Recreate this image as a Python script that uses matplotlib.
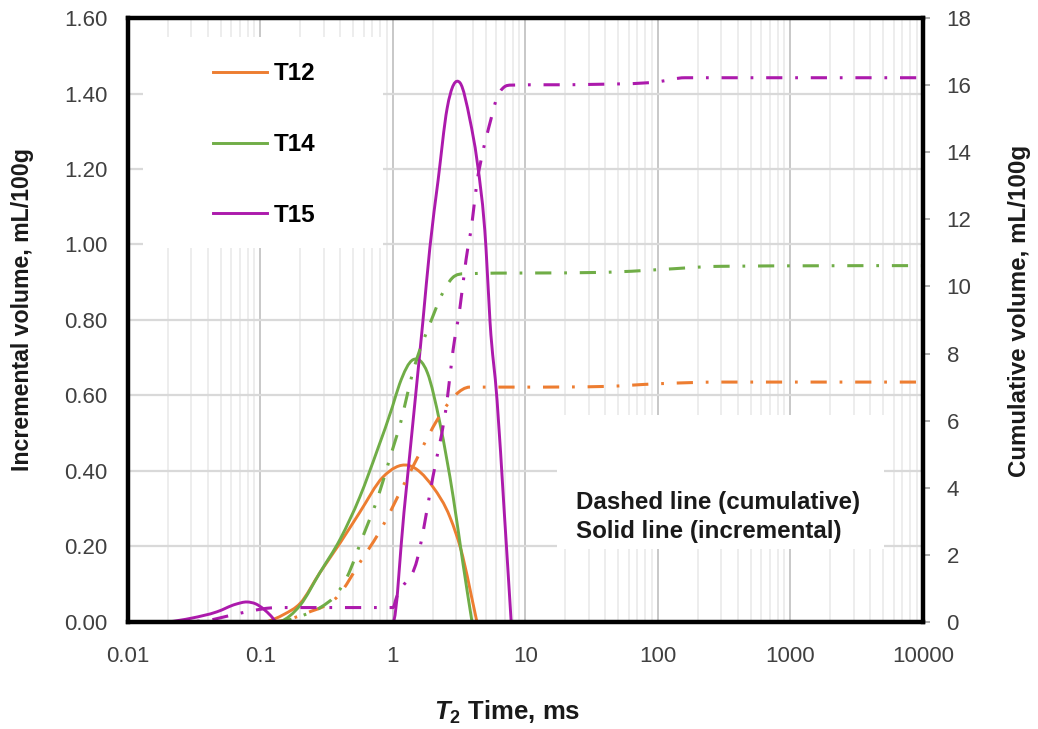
import numpy as np
import matplotlib
matplotlib.use("Agg")
import matplotlib.pyplot as plt
from matplotlib.patches import Rectangle, PathPatch
from matplotlib.path import Path
from matplotlib.lines import Line2D
from matplotlib.ticker import LogLocator, NullFormatter

plt.rcParams["font.family"] = ["Liberation Sans", "DejaVu Sans"]
plt.rcParams["mathtext.fontset"] = "custom"
plt.rcParams["mathtext.it"] = "Liberation Sans:bold:italic"
plt.rcParams["mathtext.rm"] = "Liberation Sans:bold"
plt.rcParams["mathtext.bf"] = "Liberation Sans:bold"

# ---- incremental T2 distributions (mL/100g) ----
t12_inc_t = [0.11, 0.15, 0.2, 0.28, 0.40, 0.56, 0.84, 1.30, 2.0, 2.69, 3.37, 3.9, 4.3]
t12_inc_v = [0.0, 0.02, 0.05, 0.13, 0.21, 0.29, 0.384, 0.415, 0.358, 0.278, 0.172, 0.07, 0.0]

t14_inc_t = [0.14, 0.2, 0.28, 0.40, 0.56, 0.77, 0.99, 1.12, 1.42, 1.82, 2.26, 2.85, 3.37, 3.95]
t14_inc_v = [0.0, 0.045, 0.13, 0.22, 0.33, 0.46, 0.57, 0.63, 0.695, 0.66, 0.527, 0.33, 0.156, 0.0]

t15_inc_t = [0.02, 0.03, 0.047, 0.065, 0.079, 0.092, 0.105, 0.12, 0.133, 0.5, 1.0, 1.21, 1.47, 1.68,
             1.90, 2.19, 2.56, 3.21, 3.81, 4.30, 5.03, 5.40, 6.10, 6.89, 7.8]
t15_inc_v = [0.0, 0.01, 0.027, 0.047, 0.053, 0.048, 0.035, 0.016, 0.0, 0.0, 0.0, 0.29, 0.588, 0.795,
             0.993, 1.17, 1.36, 1.428, 1.33, 1.224, 0.993, 0.795, 0.588, 0.30, 0.0]

# ---- cumulative volumes (mL/100g) ----
t12_cum_t = [0.11, 0.16, 0.224, 0.39, 0.56, 0.83, 1.12, 1.54, 2.0, 2.39, 2.95, 3.8, 10, 40, 100, 300, 10000]
t12_cum_v = [0.0, 0.07, 0.27, 0.8, 1.76, 2.83, 3.84, 4.92, 5.8, 6.3, 6.76, 7.0, 7.0, 7.02, 7.1, 7.15, 7.15]

t14_cum_t = [0.13, 0.17, 0.21, 0.28, 0.38, 0.45, 0.59, 0.77, 0.95, 1.17, 1.34, 1.5, 1.7, 1.95, 2.3, 2.8,
             3.5, 10, 40, 100, 300, 10000]
t14_cum_v = [0.0, 0.08, 0.2, 0.42, 0.86, 1.34, 2.53, 3.72, 4.9, 6.1, 7.1, 7.8, 8.4, 9.0, 9.7, 10.25,
             10.38, 10.4, 10.42, 10.5, 10.6, 10.62]

t15_cum_t = [0.02, 0.04, 0.06, 0.085, 0.12, 0.15, 1.0, 1.06, 1.52, 2.0, 2.56, 2.84, 3.21, 3.56, 3.95,
             4.30, 4.70, 5.5, 5.99, 6.89, 7.8, 30, 100, 160, 10000]
t15_cum_v = [0.0, 0.05, 0.2, 0.33, 0.42, 0.43, 0.43, 0.72, 1.85, 4.32, 6.6, 8.1, 9.4, 10.8, 11.9,
             13.1, 13.9, 15.0, 15.55, 15.94, 16.0, 16.02, 16.1, 16.22, 16.22]

labels = ["T12", "T14", "T15"]
colors = ["#ED7D31", "#70AD47", "#AC1AAC"]

x_ticks = [0.01, 0.1, 1, 10, 100, 1000, 10000]
x_tick_labels = ["0.01", "0.1", "1", "10", "100", "1000", "10000"]
left_ticks = [0.0, 0.2, 0.4, 0.6, 0.8, 1.0, 1.2, 1.4, 1.6]
right_ticks = [0, 2, 4, 6, 8, 10, 12, 14, 16, 18]


def _slopes(u, v):
    """Tangents for a smoothed line: three-point estimate, limited on monotone runs."""
    h = np.diff(u)
    d = np.diff(v) / h
    n = len(u)
    m = np.zeros(n)
    for k in range(1, n - 1):
        a, b = d[k - 1], d[k]
        if a == 0 or b == 0:
            continue
        est = (h[k] * a + h[k - 1] * b) / (h[k - 1] + h[k])
        if a * b > 0:
            lim = 3 * min(abs(a), abs(b))
            est = np.sign(est) * min(abs(est), lim)
        m[k] = est
    for i0, hh0, hh1, dd0, dd1 in ((0, h[0], h[1], d[0], d[1]),
                                   (n - 1, h[-1], h[-2], d[-1], d[-2])):
        e = ((2 * hh0 + hh1) * dd0 - hh0 * dd1) / (hh0 + hh1)
        if e * dd0 <= 0:
            e = 0.0
        elif dd0 * dd1 <= 0 and abs(e) > abs(3 * dd0):
            e = 3 * dd0
        m[i0] = e
    return m


def smooth_path(t, v):
    """Smoothed line through the points, as cubic Bezier segments on a log-x axis."""
    u = np.log10(np.asarray(t, float))
    v = np.asarray(v, float)
    m = _slopes(u, v)
    verts = [(10 ** u[0], v[0])]
    codes = [Path.MOVETO]
    for k in range(len(u) - 1):
        h = u[k + 1] - u[k]
        verts += [(10 ** (u[k] + h / 3), v[k] + m[k] * h / 3),
                  (10 ** (u[k + 1] - h / 3), v[k + 1] - m[k + 1] * h / 3),
                  (10 ** u[k + 1], v[k + 1])]
        codes += [Path.CURVE4] * 3
    return Path(verts, codes)


fig = plt.figure(figsize=(10.38, 7.29), dpi=100)
ax = fig.add_axes([0.1233, 0.1468, 0.7659, 0.8285])
ax2 = ax.twinx()

tick_color = "#404040"
label_color = "#1a1a1a"

ax.set_xscale("log")
ax.set_xlim(0.01, 10000)
ax.set_ylim(0, 1.6)
ax2.set_ylim(0, 18)

ax.set_xticks(x_ticks)
ax.set_xticklabels(x_tick_labels)
ax.xaxis.set_minor_locator(LogLocator(base=10, subs=range(2, 10), numticks=100))
ax.xaxis.set_minor_formatter(NullFormatter())
ax.set_yticks(left_ticks)
ax.set_yticklabels([f"{v:.2f}" for v in left_ticks])
ax2.set_yticks(right_ticks)
ax2.set_yticklabels([str(v) for v in right_ticks])

ax.tick_params(axis="x", which="both", length=0, pad=17, labelsize=16, labelcolor=tick_color)
ax.tick_params(axis="y", which="both", length=0, pad=15, labelsize=16, labelcolor=tick_color)
ax2.tick_params(axis="y", length=5, width=1.2, color="#a0a0a0", pad=12, labelsize=16,
                labelcolor=tick_color)

# grid
ax.set_axisbelow(True)
ax.grid(which="major", axis="x", color="#c8c8c8", lw=1.4)
ax.grid(which="minor", axis="x", color="#e8e8e8", lw=1.1)
ax.grid(which="major", axis="y", color="#d9d9d9", lw=1.6)

# white backgrounds behind the legend and the note
ax.add_patch(Rectangle((0.019, 0.620), 0.302, 0.348, transform=ax.transAxes,
                       facecolor="white", edgecolor="none", zorder=1))
ax.add_patch(Rectangle((0.540, 0.121), 0.411, 0.221, transform=ax.transAxes,
                       facecolor="white", edgecolor="none", zorder=1))

inc_series = [(t12_inc_t, t12_inc_v), (t14_inc_t, t14_inc_v), (t15_inc_t, t15_inc_v)]
cum_series = [(t12_cum_t, t12_cum_v), (t14_cum_t, t14_cum_v), (t15_cum_t, t15_cum_v)]

for (t, v), c in zip(inc_series, colors):
    ax.add_patch(PathPatch(smooth_path(t, v), fill=False, edgecolor=c, lw=2.1,
                           joinstyle="round", capstyle="round", zorder=3))

for (t, v), c in zip(cum_series, colors):
    ax2.add_patch(PathPatch(smooth_path(t, v), fill=False, edgecolor=c, lw=2.2,
                            linestyle=(0, (5.3, 4.2, 0.9, 4.2)), zorder=2))

for sp in ax.spines.values():
    sp.set_visible(False)
for sp in ax2.spines.values():
    sp.set_visible(True)
    sp.set_linewidth(3.2)
    sp.set_color("black")

handles = [Line2D([], [], color=c, lw=2.1, label=lab) for c, lab in zip(colors, labels)]
ax.legend(handles=handles, loc="upper left", bbox_to_anchor=(0.095, 0.943),
          frameon=False, prop={"weight": "bold", "size": 17.5},
          handlelength=2.2, handletextpad=0.3, labelspacing=1.97, borderaxespad=0)

ax.text(0.564, 0.174, "Dashed line (cumulative)\nSolid line (incremental)",
        transform=ax.transAxes, ha="left", va="center", fontsize=17.4,
        fontweight="bold", color=label_color, linespacing=1.3, zorder=4)

ax.set_xlabel(r"$T_2$ Time, ms", fontsize=18.5, fontweight="bold", color=label_color)
ax.xaxis.set_label_coords(0.477, -0.149)
ax.xaxis.label.set_va("center")

ax.set_ylabel("Incremental volume, mL/100g", fontsize=16.7, fontweight="bold", color=label_color)
ax.yaxis.set_label_coords(-0.133, 0.518)
ax.yaxis.label.set_va("center")

ax2.set_ylabel("Cumulative volume, mL/100g", fontsize=17.4, fontweight="bold", color=label_color,
               rotation=90)
ax2.yaxis.set_label_coords(1.121, 0.515)
ax2.yaxis.label.set_va("center")

fig.savefig("out.png", dpi=100, facecolor="white")
